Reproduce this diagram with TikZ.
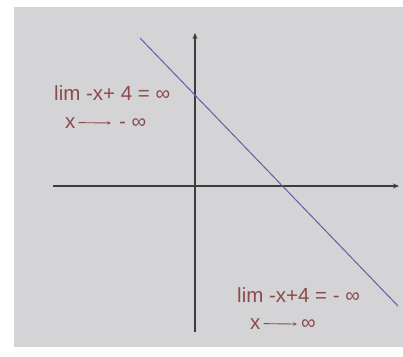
\documentclass[tikz,border=0pt]{standalone}
\usepackage{fontspec}
\setmainfont{Liberation Sans}
\usetikzlibrary{arrows.meta}
\definecolor{bg}{RGB}{212,212,214}
\definecolor{txt}{RGB}{140,75,75}
\definecolor{ln}{RGB}{95,95,165}
\definecolor{ax}{RGB}{60,60,60}
\begin{document}
\begin{tikzpicture}[x=1pt,y=-1pt,
  lbl/.style={text=txt,font=\fontsize{20.5}{23}\selectfont,inner sep=0pt,anchor=base west},
  axis/.style={draw=ax,line width=1.6pt,-{Stealth[length=6pt,width=5pt]}},
  larrow/.style={draw=txt,line width=0.9pt,-{Stealth[length=4pt,width=3.5pt]}}]
\useasboundingbox (0,0) rectangle (403,356);
\fill[white] (0,0) rectangle (403,356);
\fill[bg] (14,7) rectangle (403,347);
% axes
\coordinate (xl) at (53,186);
\coordinate (xr) at (399,186);
\coordinate (yb) at (195,332);
\coordinate (yt) at (195,33);
\draw[axis] (xl) -- (xr);
\draw[axis] (yb) -- (yt);
% line
\coordinate (la) at (140,38);
\coordinate (lb) at (398,306);
\draw[ln,line width=1pt] (la) -- (lb);
% top label
\node[lbl] (t1) at (54,100) {lim -x+ 4 = ∞};
\node[lbl] (t2x) at (65,128) {x};
\node[lbl] (t2i) at (119,128) {- ∞};
\draw[larrow,shorten <=3pt,shorten >=8pt] (t2x.east) -- (t2i.west);
% bottom label
\node[lbl] (b1) at (237,302) {lim -x+4 = - ∞};
\node[lbl] (b2x) at (250,329) {x};
\node[lbl] (b2i) at (301,329) {∞};
\draw[larrow,shorten <=3pt,shorten >=4pt] (b2x.east) -- (b2i.west);
\end{tikzpicture}
\end{document}
